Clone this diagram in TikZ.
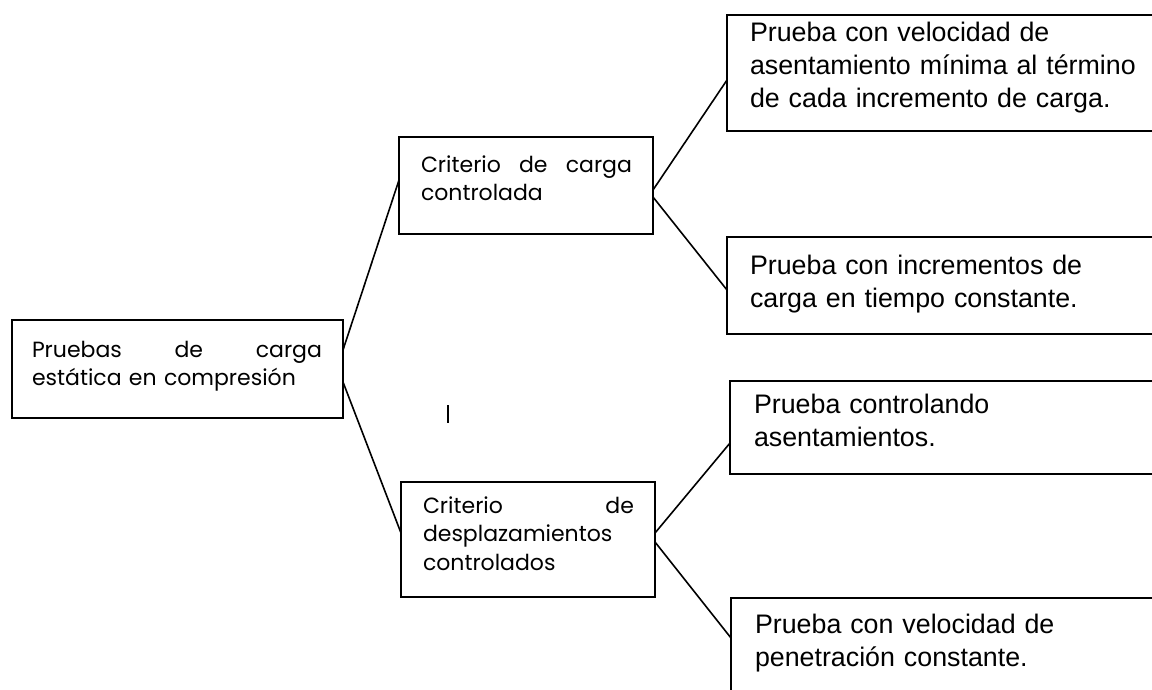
\documentclass[tikz,border=0pt]{standalone}
\usepackage{fontspec}
\setmainfont{Liberation Sans}
\newfontfamily\gothic{Poppins}
\begin{document}
\begin{tikzpicture}[x=1pt,y=-1pt,
  boxline/.style={draw=black, line width=1.8pt, inner sep=0pt, outer sep=0pt, anchor=north west},
  conn/.style={draw=black, line width=1.6pt},
  gtext/.style={anchor=base west, inner sep=0pt, outer sep=0pt, align=left,
    font=\gothic\fontsize{22}{28.5}\selectfont},
  atext/.style={anchor=base west, inner sep=0pt, outer sep=0pt, align=left, text width=400pt,
    font=\fontsize{26.8}{33}\selectfont}]
\useasboundingbox (0,0) rectangle (1152,690);
\clip (0,0) rectangle (1152,690);
% boxes
\node[boxline, minimum width=331pt, minimum height=98pt] (L) at (12,320) {};
\node[boxline, minimum width=254pt, minimum height=97pt] (C1) at (399,137) {};
\node[boxline, minimum width=254pt, minimum height=115pt] (C2) at (401,482) {};
\node[boxline, minimum width=450pt, minimum height=116pt] (R1) at (727,15) {};
\node[boxline, minimum width=450pt, minimum height=97pt] (R2) at (727,237) {};
\node[boxline, minimum width=450pt, minimum height=93pt] (R3) at (730,381) {};
\node[boxline, minimum width=450pt, minimum height=120pt] (R4) at (731,598) {};
% texts
\node[gtext, text width=290pt] (tL) at (32,357) {Pruebas\hfill de\hfill carga\\estática en compresión};
\node[gtext, text width=211pt] (tC1) at (421,172) {Criterio\hfill de\hfill carga\\controlada};
\node[gtext, text width=211pt] (tC2) at (423,513) {Criterio\hfill de\\desplazamientos\\controlados};
\node[atext] (tR1) at (750,42) {Prueba con velocidad de\\asentamiento mínima al término\\de cada incremento de carga.};
\node[atext] (tR2) at (750,274) {Prueba con incrementos de\\carga en tiempo constante.};
\node[atext] (tR3) at (754,413) {Prueba controlando\\asentamientos.};
\node[atext] (tR4) at (755,633) {Prueba con velocidad de\\penetración constante.};
% connectors
\draw[conn] ([yshift=19pt]L.east) -- ([yshift=5.5pt]C1.west);
\draw[conn] ([yshift=-13pt]L.east) -- ([yshift=6.5pt]C2.west);
\draw[conn] ([yshift=-4.5pt]C1.east) -- ([yshift=-7pt]R1.west);
\draw[conn] ([yshift=-11.5pt]C1.east) -- ([yshift=-4.5pt]R2.west);
\draw[conn] ([yshift=6.5pt]C2.east) -- ([yshift=-15.5pt]R3.west);
\draw[conn] ([yshift=-2.5pt]C2.east) -- ([yshift=20pt]R4.west);
% stray mark
\coordinate (m1) at (448,405);
\coordinate (m2) at (448,423);
\draw[line width=2.4pt] (m1) -- (m2);
\end{tikzpicture}
\end{document}
